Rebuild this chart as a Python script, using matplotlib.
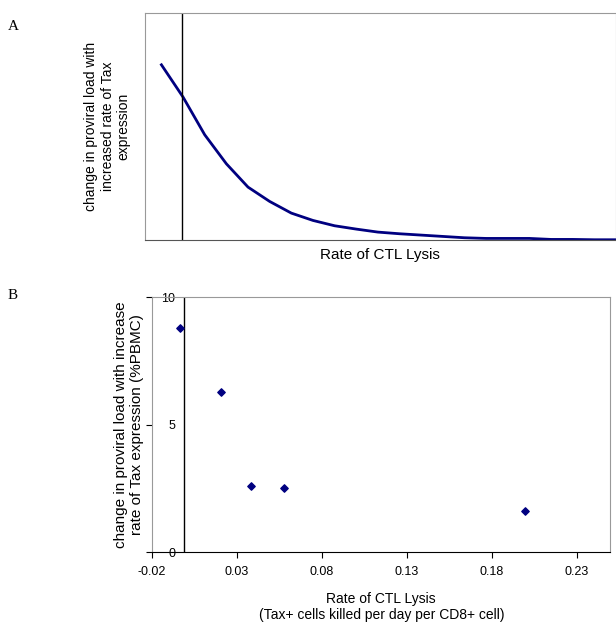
import matplotlib.pyplot as plt
import matplotlib.transforms as mtransforms

# panel A: model curve (arbitrary units)
curve_x = list(range(22))
curve_y = [525, 428, 315, 228, 158, 115, 80, 58, 42, 32, 23, 18, 14, 10, 6, 4, 4, 4, 1, 1, 0, 0]
marker_x = 0.95

# panel B: data points
lysis_rate = [-0.0035, 0.0206, 0.038, 0.0574, 0.1994]
load_change = [8.8, 6.3, 2.6, 2.5, 1.6]
xticks_b = [-0.02, 0.03, 0.08, 0.13, 0.18, 0.23]
yticks_b = [0, 5, 10]

navy = "#000080"
frame = "#999999"
plt.rcParams["font.family"] = ["Liberation Sans", "DejaVu Sans"]

fig = plt.figure(figsize=(6.16, 6.26), dpi=100)

axA = fig.add_axes([0.235, 0.617, 0.765, 0.362])
axA.plot(curve_x, curve_y, color=navy, lw=2)
axA.axvline(marker_x, color="black", lw=1)
axA.set_xlim(-0.77, 21.0)
axA.set_ylim(0, 680)
axA.set_xticks([])
axA.set_yticks([])
for s in axA.spines.values():
    s.set_color(frame)
axA.spines["bottom"].set_color("#555555")
axA.set_xlabel("Rate of CTL Lysis", fontsize=11, labelpad=6)
axA.set_ylabel("change in proviral load with\nincreased rate of Tax\nexpression", fontsize=10, labelpad=10)

axB = fig.add_axes([0.247, 0.118, 0.744, 0.407])
axB.scatter(lysis_rate, load_change, marker="D", s=14, color=navy, zorder=3)
axB.set_xlim(-0.02, 0.25)
axB.set_ylim(0, 10)
axB.set_xticks(xticks_b)
axB.set_xticklabels(["-0.02", "0.03", "0.08", "0.13", "0.18", "0.23"], fontsize=9)
axB.set_yticks(yticks_b)
axB.set_yticklabels([str(v) for v in yticks_b], fontsize=9)
for s in ["top", "right", "left"]:
    axB.spines[s].set_color(frame)
axB.spines["bottom"].set_color("black")
axB.axvline(-0.001, color="black", lw=1, zorder=2)
axB.tick_params(axis="y", length=4, pad=1)
axB.tick_params(axis="x", length=4, pad=6)
shift = mtransforms.ScaledTranslation(0.3, 0, fig.dpi_scale_trans)
for lab in axB.get_yticklabels():
    lab.set_transform(lab.get_transform() + shift)
axB.set_xlabel("Rate of CTL Lysis\n(Tax+ cells killed per day per CD8+ cell)", fontsize=10, labelpad=10)
axB.set_ylabel("change in proviral load with increase\nrate of Tax expression (%PBMC)", fontsize=11, labelpad=2)

fig.text(0.013, 0.952, "A", fontsize=11, family="Liberation Serif")
fig.text(0.013, 0.522, "B", fontsize=11, family="Liberation Serif")

fig.savefig("out.png", dpi=100)
